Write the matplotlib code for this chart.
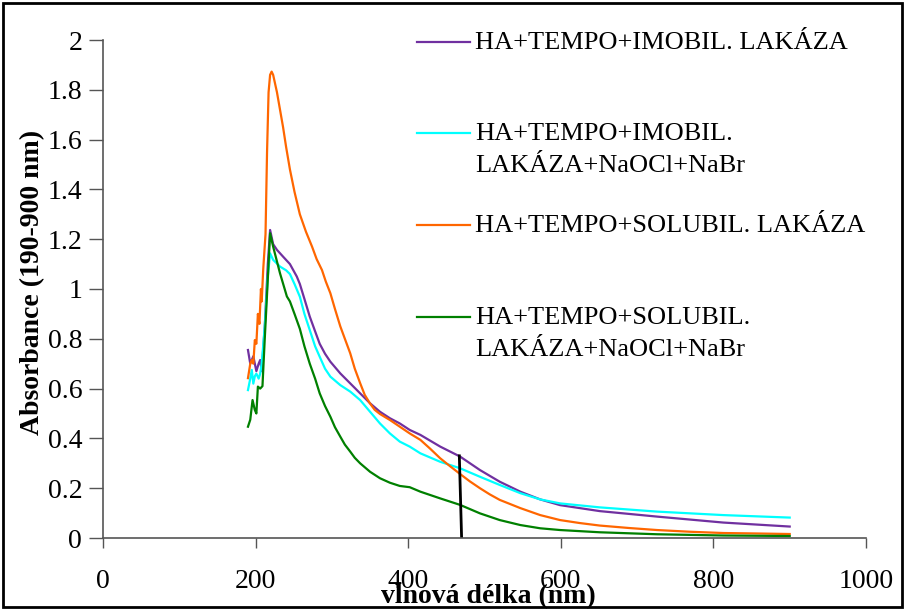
import matplotlib
matplotlib.use("Agg")
import matplotlib.pyplot as plt
from matplotlib.patches import Rectangle
from matplotlib.lines import Line2D
from matplotlib.ticker import FuncFormatter

plt.rcParams['font.family'] = ['Liberation Serif', 'DejaVu Serif']

labels = [
    "HA+TEMPO+IMOBIL. LAKÁZA",
    "HA+TEMPO+IMOBIL.\nLAKÁZA+NaOCl+NaBr",
    "HA+TEMPO+SOLUBIL. LAKÁZA",
    "HA+TEMPO+SOLUBIL.\nLAKÁZA+NaOCl+NaBr",
]
colors = ["#7030A0", "#00FFFF", "#FF6600", "#008000"]

purple_x = [190, 193, 197, 201, 204, 206, 208, 212, 216, 219, 223, 228, 236, 245, 254, 258, 264, 271, 278, 284, 291, 298, 311,
            324, 337, 350, 363, 376, 389, 402, 416, 442, 468, 494, 520, 547, 573, 599, 651, 726, 813, 900]
purple_y = [0.755, 0.70, 0.73, 0.67, 0.70, 0.715, 0.67, 0.85, 1.10, 1.237, 1.18, 1.157, 1.13, 1.10, 1.05, 1.02, 0.96, 0.889, 0.83, 0.78, 0.74, 0.708, 0.661,
            0.621, 0.581, 0.541, 0.507, 0.481, 0.46, 0.434, 0.414, 0.367, 0.327, 0.273, 0.226, 0.186, 0.155, 0.132, 0.108, 0.086, 0.062, 0.046]

cyan_x = [190, 193, 195, 197, 199, 201, 204, 206, 208, 212, 216, 219, 223, 232, 240, 245, 251, 258, 264, 271, 278, 284, 291, 298, 311,
          324, 337, 350, 363, 376, 389, 402, 416, 442, 468, 494, 520, 547, 573, 599, 651, 726, 813, 900]
cyan_y = [0.594, 0.64, 0.675, 0.62, 0.65, 0.66, 0.64, 0.66, 0.70, 0.85, 1.05, 1.143, 1.117, 1.09, 1.075, 1.06, 1.02, 0.969, 0.90, 0.835, 0.77, 0.728, 0.68, 0.648, 0.614,
          0.588, 0.554, 0.507, 0.46, 0.42, 0.387, 0.367, 0.34, 0.306, 0.28, 0.246, 0.213, 0.18, 0.155, 0.139, 0.123, 0.106, 0.092, 0.082]

orange_x = [190, 193, 195, 197, 199, 201, 203, 205, 207, 208, 210, 213, 215, 217, 219, 221, 223, 228, 232, 236, 240, 245, 251, 258, 266, 274, 280, 287, 292, 298, 304, 311,
            317, 324, 330, 337, 343, 350, 356, 363, 370, 376, 389, 402, 416, 429, 442, 455, 468, 481, 494, 507, 520, 547, 573, 599, 625, 651, 690, 726, 770, 813, 860, 900]
orange_y = [0.642, 0.70, 0.715, 0.70, 0.795, 0.78, 0.90, 0.86, 1.0, 0.95, 1.08, 1.22, 1.55, 1.79, 1.86, 1.873, 1.86, 1.79, 1.72, 1.65, 1.57, 1.48, 1.39, 1.30, 1.23, 1.17, 1.12, 1.076, 1.03, 0.983, 0.92, 0.85,
            0.80, 0.742, 0.68, 0.622, 0.575, 0.54, 0.515, 0.498, 0.485, 0.474, 0.447, 0.42, 0.394, 0.358, 0.32, 0.288, 0.257, 0.227, 0.20, 0.175, 0.153, 0.12, 0.092, 0.072, 0.06, 0.05, 0.04, 0.032, 0.025, 0.02, 0.018, 0.016]

green_x = [190, 193, 196, 199, 201, 203, 206, 209, 212, 215, 219, 223, 232, 241, 245, 251, 258, 264, 271, 278, 284, 291, 298, 304, 311,
           317, 324, 330, 337, 350, 363, 376, 389, 402, 416, 442, 468, 494, 520, 547, 573, 599, 651, 726, 813, 900]
green_y = [0.447, 0.475, 0.554, 0.514, 0.50, 0.608, 0.60, 0.61, 0.80, 0.98, 1.224, 1.17, 1.063, 0.97, 0.95, 0.90, 0.84, 0.77, 0.70, 0.64, 0.581, 0.53, 0.487, 0.445, 0.407,
           0.375, 0.347, 0.322, 0.30, 0.266, 0.24, 0.222, 0.209, 0.204, 0.186, 0.159, 0.133, 0.099, 0.072, 0.052, 0.039, 0.032, 0.023, 0.015, 0.01, 0.008]

marker_x = [467, 470]
marker_y = [0.33, 0.0]

x_ticks = [0, 200, 400, 600, 800, 1000]
y_ticks = [0, 0.2, 0.4, 0.6, 0.8, 1.0, 1.2, 1.4, 1.6, 1.8, 2.0]

W, H = 905, 610
fig = plt.figure(figsize=(W/100, H/100), dpi=100)
ax = fig.add_axes([103/W, 1-538/H, (866-103)/W, (538-40)/H])

series = [(purple_x, purple_y), (cyan_x, cyan_y), (orange_x, orange_y), (green_x, green_y)]
for (xs, ys), c in zip(series, colors):
    ax.plot(xs, ys, color=c, lw=1.6, solid_joinstyle='round')
ax.plot(marker_x, marker_y, color='black', lw=2)

ax.set_xlim(0, 1000)
ax.set_ylim(0, 2)
ax.set_xticks(x_ticks)
ax.set_yticks(y_ticks)
ax.yaxis.set_major_formatter(FuncFormatter(lambda v, p: ('%g' % round(v, 2))))
for s in ['top', 'right']:
    ax.spines[s].set_visible(False)
for s in ['left', 'bottom']:
    ax.spines[s].set_color('#555555')
    ax.spines[s].set_linewidth(1.2)
ax.tick_params(axis='x', direction='out', length=7, width=1, color='#555555', labelsize=20, pad=15)
ax.tick_params(axis='y', direction='out', length=10, width=1, color='#555555', labelsize=20, pad=5)

fig.text(488/W, 1-597/H, "vlnová délka (nm)", fontsize=20, fontweight='bold', ha='center', va='center')
fig.text(33/W, 1-282/H, "Absorbance (190-900 nm)", fontsize=20, fontweight='bold', ha='center', va='center',
         rotation=90)

# legend (manual)
leg_y = [42, 133, 225, 317]
for lab, c, yy in zip(labels, colors, leg_y):
    yf = 1 - yy/H
    fig.add_artist(Line2D([417/W, 470/W], [yf, yf], color=c, lw=1.6, transform=fig.transFigure))
    for i, line in enumerate(lab.split("\n")):
        fig.text(475/W, 1 - (yy + 1 + i*32)/H, line, fontsize=19, va='center', ha='left')

fig.add_artist(Rectangle((3/W, 3/H), 899/W, 604/H, fill=False, edgecolor='black', lw=2,
                         transform=fig.transFigure))

fig.savefig("out.png", dpi=100)
